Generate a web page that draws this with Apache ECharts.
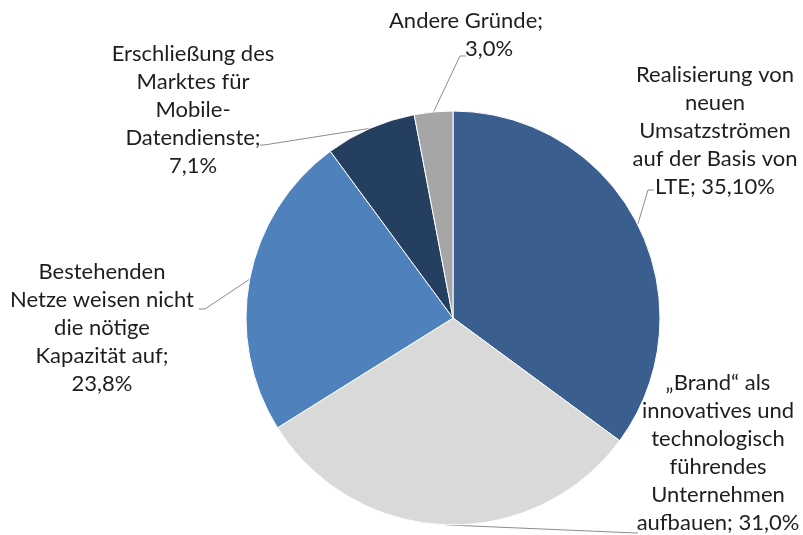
<!DOCTYPE html>
<html><head><meta charset="utf-8">
<script src="https://cdn.jsdelivr.net/npm/echarts@6/dist/echarts.min.js"></script>
<style>html,body{margin:0;padding:0;background:#fff}#c{width:803px;height:535px}</style>
</head><body><div id="c"></div>
<script>
const categories = [
  "Realisierung von\nneuen\nUmsatzströmen\nauf der Basis von\nLTE",
  "„Brand“ als\ninnovatives und\ntechnologisch\nführendes\nUnternehmen\naufbauen",
  "Bestehenden\nNetze weisen nicht\ndie nötige\nKapazität auf",
  "Erschließung des\nMarktes für\nMobile-\nDatendienste",
  "Andere Gründe"
];
const values = [35.1, 31.0, 23.8, 7.1, 3.0];
const pctLabels = ["35,10%", "31,0%", "23,8%", "7,1%", "3,0%"];
const colors = ["#3A5F8E", "#D9D9D9", "#4F81BD", "#243F60", "#A6A6A6"];

// label placement (text block centres) and leader-line elbows
const labelPos = [
  {x: 715, y: 131, e: [[648, 190], [654, 190]]},
  {x: 718, y: 453, e: [[636, 533], [638, 533]]},
  {x: 102, y: 328, e: [[205, 309], [199, 309]]},
  {x: 193, y: 110, e: [[264, 145], [260, 145]]},
  {x: 466, y: 35,  e: [[460, 56], [466, 56]]}
];
const labelTexts = categories.map((c, i) => {
  if (i <= 1) return c + "; " + pctLabels[i];
  if (i === 4) return c + ";\n{p|" + pctLabels[i] + "}";
  return c + ";\n" + pctLabels[i];
});

const CX = 453, CY = 318, R = 207;
const total = values.reduce((a, b) => a + b, 0);
const mids = [];
let acc = 0;
values.forEach(v => { mids.push((acc + v / 2) / total * 2 * Math.PI); acc += v; });

const FONT = 'Lato, "Open Sans", sans-serif';
const chart = echarts.init(document.getElementById('c'), null, {renderer: 'canvas'});
chart.setOption({
  animation: false,
  series: [{
    type: 'pie',
    center: [CX, CY],
    radius: R,
    startAngle: 90,
    clockwise: true,
    itemStyle: {borderColor: '#fff', borderWidth: 1},
    data: values.map((v, i) => ({value: v, name: categories[i], itemStyle: {color: colors[i]}})),
    label: {
      show: true,
      position: 'outside',
      formatter: p => labelTexts[p.dataIndex],
      fontFamily: FONT,
      fontSize: 22,
      lineHeight: 28,
      color: '#1e1e1e',
      align: 'center',
      overflow: 'none',
      width: 400,
      rich: {
        p: {fontFamily: FONT, fontSize: 22, lineHeight: 28, color: '#1e1e1e', padding: [0, 0, 0, 46]}
      }
    },
    labelLine: {show: true, lineStyle: {color: '#8c8c8c', width: 1}, length: 10, length2: 10},
    labelLayout: function (params) {
      const i = params.dataIndex;
      const lp = labelPos[i];
      const a = mids[i];
      const sx = CX + R * Math.sin(a), sy = CY - R * Math.cos(a);
      return {
        x: lp.x, y: lp.y, align: 'center', verticalAlign: 'middle',
        labelLinePoints: [[sx, sy], lp.e[0], lp.e[1]]
      };
    }
  }]
});
</script></body></html>
